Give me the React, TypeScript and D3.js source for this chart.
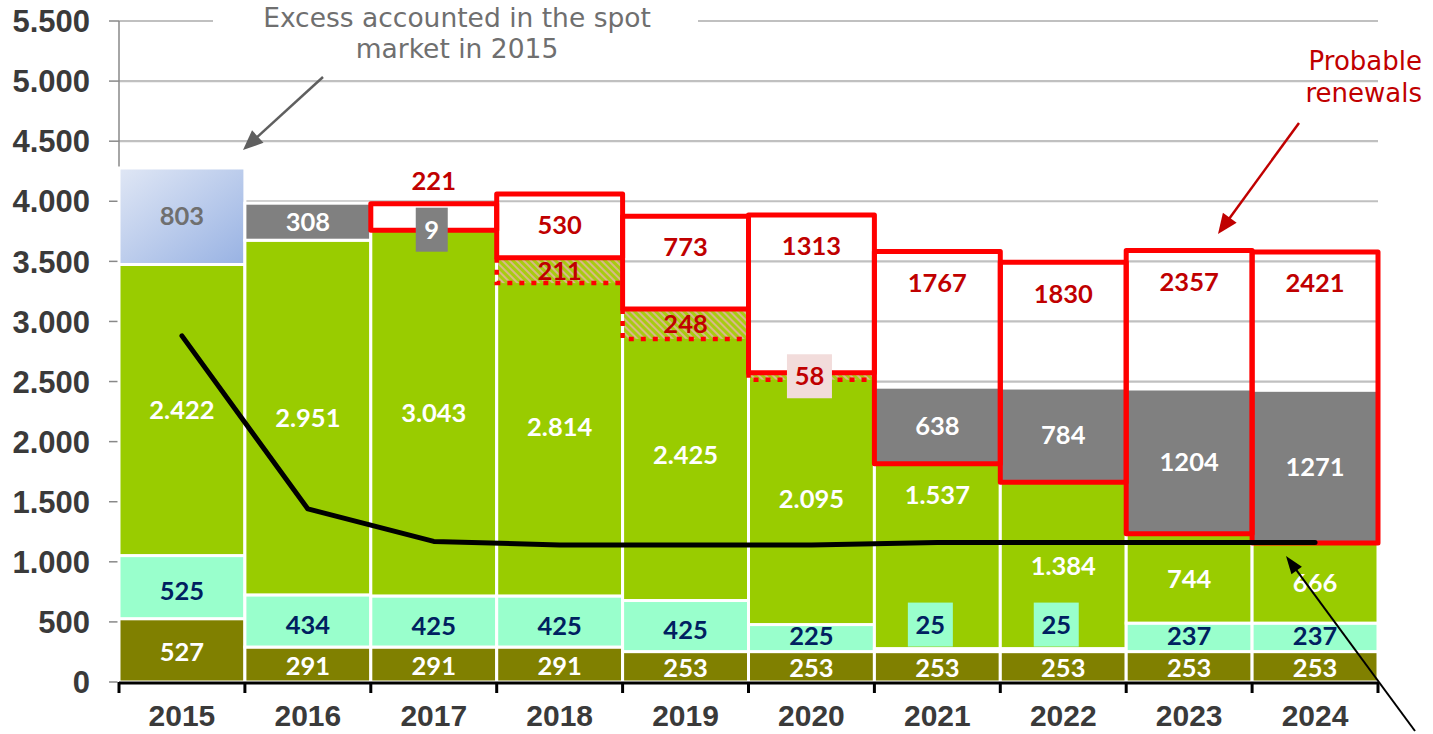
import React from 'react';
import * as d3 from 'd3';

// ---------- data ----------
const years = ['2015', '2016', '2017', '2018', '2019', '2020', '2021', '2022', '2023', '2024'];
const baseSeries = [527, 291, 291, 291, 253, 253, 253, 253, 253, 253];
const midSeries = [525, 434, 425, 425, 425, 225, 25, 25, 237, 237];
const greenSeries = [2422, 2951, 3043, 2814, 2425, 2095, 1537, 1384, 744, 666];
const spotExcess = [803, 0, 0, 0, 0, 0, 0, 0, 0, 0];
const greySeries = [0, 308, 9, 0, 0, 0, 638, 784, 1204, 1271];
const hatchedSeries = [0, 0, 0, 211, 248, 58, 0, 0, 0, 0];
const renewalSeries = [0, 0, 221, 530, 773, 1313, 1767, 1830, 2357, 2421];
const lineSeries = [2880, 1440, 1170, 1140, 1140, 1140, 1160, 1160, 1160, 1160];
const yTickValues = [0, 500, 1000, 1500, 2000, 2500, 3000, 3500, 4000, 4500, 5000, 5500];
const annotationLeft = ['Excess accounted in the spot', 'market in 2015'];
const annotationRight = ['Probable', 'renewals'];

// ---------- layout / style ----------
const W = 1433;
const H = 734;
const X0 = 119;
const X1 = 1378;
const Y0 = 682;
const YTOP = 21;

const C = {
  olive: '#808000',
  aqua: '#99ffcc',
  green: '#99cc00',
  grey: '#808080',
  red: '#ff0000',
  darkRed: '#c00000',
  navy: '#002060',
  grid: '#c0c0c0',
  axisText: '#3a3a3a',
  pink: '#f2dcdb',
};

const LABEL_NUDGE: Record<string, number> = { '2021': -61 };

const locale = d3.formatLocale({ decimal: ',', thousands: '.', grouping: [3], currency: ['', ''] });
const fmtDot = locale.format(',d');
const fmtPlain = d3.format('d');

const FONT_LABEL = 'Lato, "Open Sans", sans-serif';
const FONT_AXIS = '"Liberation Sans", Arial, sans-serif';
const FONT_NOTE = '"DejaVu Sans", Verdana, sans-serif';
const LABEL_SIZE = 25.5;

function arrowLine(x1: number, y1: number, x2: number, y2: number, color: string, w: number, headL: number, headW: number, key: string) {
  const dx = x2 - x1;
  const dy = y2 - y1;
  const len = Math.sqrt(dx * dx + dy * dy);
  const ux = dx / len;
  const uy = dy / len;
  const bx = x2 - ux * headL;
  const by = y2 - uy * headL;
  const px = -uy;
  const py = ux;
  const pts = [
    [x2, y2],
    [bx + px * headW / 2, by + py * headW / 2],
    [bx - px * headW / 2, by - py * headW / 2],
  ];
  return (
    <g key={key}>
      <line x1={x1} y1={y1} x2={bx + ux * 2} y2={by + uy * 2} stroke={color} strokeWidth={w} />
      <polygon points={pts.map((p) => p.join(',')).join(' ')} fill={color} />
    </g>
  );
}

export default function App() {
  const x = d3.scaleBand<string>().domain(years).range([X0, X1]).paddingInner(0).paddingOuter(0);
  const y = d3.scaleLinear().domain([0, 5500]).range([Y0, YTOP]);
  const bw = x.bandwidth();

  const rows = years.map((yr, i) => {
    const b0 = 0;
    const b1 = baseSeries[i];
    const m1 = b1 + midSeries[i];
    const g1 = m1 + greenSeries[i];
    const e1 = g1 + spotExcess[i];
    const gr1 = g1 + greySeries[i];
    return { yr, i, b0, b1, m1, g1, e1, gr1 };
  });

  const segLabel = (
    key: string,
    cx: number,
    yTop: number,
    yBot: number,
    text: string,
    color: string,
    boxFill: string,
    placeAbove: boolean,
    nudge = 0
  ) => {
    const h = yBot - yTop;
    if (h < 12) {
      const bwid = 19 + 13 * text.length;
      const bh = 44;
      const cyBox = placeAbove ? yTop - 2 - bh / 2 : (yTop + yBot) / 2;
      const cxBox = placeAbove ? cx - 7 : cx - 2;
      return (
        <g key={key}>
          <rect x={cxBox - bwid / 2} y={cyBox - bh / 2} width={bwid} height={bh} fill={boxFill} />
          <text x={cxBox} y={cyBox} dy="0.36em" textAnchor="middle" fill={color} fontFamily={FONT_LABEL} fontWeight={700} fontSize={LABEL_SIZE}>
            {text}
          </text>
        </g>
      );
    }
    return (
      <text key={key} x={cx} y={(yTop + yBot) / 2 + nudge} dy="0.36em" textAnchor="middle" fill={color} fontFamily={FONT_LABEL} fontWeight={700} fontSize={LABEL_SIZE}>
        {text}
      </text>
    );
  };

  const line = d3
    .line<number>()
    .x((_, i) => (x(years[i]) as number) + bw / 2)
    .y((d) => y(d));

  return (
    <svg width={W} height={H} style={{ position: 'absolute', left: 0, top: 0, background: '#fff' }}>
      <defs>
        <linearGradient id="spotGrad" x1="0" y1="0" x2="1" y2="1">
          <stop offset="0" stopColor="#e0e7f5" />
          <stop offset="1" stopColor="#98b2e3" />
        </linearGradient>
        <pattern id="hatch" patternUnits="userSpaceOnUse" width="5" height="5" patternTransform="rotate(-45)">
          <rect width="5" height="5" fill="#a8cc10" />
          <line x1="1" y1="0" x2="1" y2="5" stroke="#e8b0b4" strokeWidth="1.5" />
        </pattern>
      </defs>

      {/* gridlines */}
      <g>
        {yTickValues
          .filter((v) => v > 0)
          .map((v) => (
            <line key={'g' + v} x1={X0} x2={X1} y1={y(v)} y2={y(v)} stroke={C.grid} strokeWidth={2.2} />
          ))}
        {yTickValues.map((v) => (
          <line key={'t' + v} x1={X0 - 10} x2={X0} y1={y(v)} y2={y(v)} stroke="#888" strokeWidth={1.5} />
        ))}
        <line x1={X0} x2={X0} y1={YTOP} y2={Y0} stroke="#888" strokeWidth={1.5} />
      </g>

      {/* stacked bars */}
      <g stroke="#fff" strokeWidth={3}>
        {rows.map((r) => {
          const bx = x(r.yr) as number;
          return (
            <g key={'bar' + r.yr}>
              <rect x={bx} y={y(r.b1)} width={bw} height={y(r.b0) - y(r.b1)} fill={C.olive} />
              <rect x={bx} y={y(r.m1)} width={bw} height={y(r.b1) - y(r.m1)} fill={C.aqua} />
              <rect x={bx} y={y(r.g1)} width={bw} height={y(r.m1) - y(r.g1)} fill={C.green} />
              {spotExcess[r.i] > 0 && <rect x={bx} y={y(r.e1)} width={bw} height={y(r.g1) - y(r.e1)} fill="url(#spotGrad)" />}
              {greySeries[r.i] > 0 && <rect x={bx} y={y(r.gr1)} width={bw} height={y(r.g1) - y(r.gr1)} fill={C.grey} />}
            </g>
          );
        })}
      </g>

      {/* hatched (already inside the green stack) */}
      <g>
        {rows
          .filter((r) => hatchedSeries[r.i] > 0)
          .map((r) => {
            const bx = x(r.yr) as number;
            const top = y(r.g1);
            const bot = y(r.g1 - hatchedSeries[r.i]);
            return (
              <g key={'h' + r.yr}>
                <rect x={bx + 1.5} y={top} width={bw - 3} height={bot - top} fill="url(#hatch)" />
                <path
                  d={`M${bx},${top} L${bx},${bot} L${bx + bw},${bot}`}
                  fill="none"
                  stroke={C.red}
                  strokeWidth={4.5}
                  strokeDasharray="5 7"
                />
              </g>
            );
          })}
      </g>

      {/* probable renewals boxes */}
      <g>
        {rows
          .filter((r) => renewalSeries[r.i] > 0)
          .map((r) => {
            const bx = x(r.yr) as number;
            const top = y(r.g1 + renewalSeries[r.i]);
            const bot = y(r.g1);
            return (
              <rect key={'rb' + r.yr} x={bx} y={top} width={bw} height={bot - top} fill="none" stroke={C.red} strokeWidth={5} strokeLinejoin="round" />
            );
          })}
      </g>

      {/* segment labels */}
      <g>
        {rows.map((r) => {
          const cx = (x(r.yr) as number) + bw / 2;
          const out: React.ReactNode[] = [];
          const aquaH = y(r.b1) - y(r.m1);
          out.push(segLabel('lb' + r.yr, cx, y(r.b1), y(r.b0), fmtPlain(baseSeries[r.i]), '#fff', C.olive, false, 1));
          out.push(segLabel('lm' + r.yr, cx, y(r.m1), y(r.b1), fmtPlain(midSeries[r.i]), C.navy, C.aqua, true, aquaH > 40 ? 4 : -2));
          out.push(
            segLabel('lg' + r.yr, cx, y(r.g1), y(r.m1), fmtDot(greenSeries[r.i]), '#fff', C.green, false, LABEL_NUDGE[r.yr] || 0)
          );
          if (spotExcess[r.i] > 0) out.push(segLabel('le' + r.yr, cx, y(r.e1), y(r.g1), fmtPlain(spotExcess[r.i]), '#6f6f6f', '#fff', false));
          if (greySeries[r.i] > 0) out.push(segLabel('lgr' + r.yr, cx, y(r.gr1), y(r.g1), fmtPlain(greySeries[r.i]), '#fff', C.grey, false));
          if (hatchedSeries[r.i] > 0)
            out.push(segLabel('lh' + r.yr, cx, y(r.g1), y(r.g1 - hatchedSeries[r.i]), fmtPlain(hatchedSeries[r.i]), C.darkRed, C.pink, false));
          if (renewalSeries[r.i] > 0) {
            const top = y(r.g1 + renewalSeries[r.i]);
            const h = y(r.g1) - top;
            const ly = h > 40 ? top + 31 : top - 23;
            out.push(
              <text key={'lr' + r.yr} x={cx} y={ly} dy="0.36em" textAnchor="middle" fill={C.darkRed} fontFamily={FONT_LABEL} fontWeight={700} fontSize={LABEL_SIZE}>
                {fmtPlain(renewalSeries[r.i])}
              </text>
            );
          }
          return <g key={'labels' + r.yr}>{out}</g>;
        })}
      </g>

      {/* black line */}
      <path d={line(lineSeries) || ''} fill="none" stroke="#000" strokeWidth={5} strokeLinejoin="round" strokeLinecap="round" />

      {/* x axis */}
      <g>
        <line x1={X0} x2={X1} y1={Y0 + 1} y2={Y0 + 1} stroke="#000" strokeWidth={3} />
        {years.concat(['end']).map((yr, i) => {
          const tx = i < years.length ? (x(yr) as number) : X1;
          return <line key={'xt' + i} x1={tx} x2={tx} y1={Y0} y2={Y0 + 11} stroke="#000" strokeWidth={3} />;
        })}
        {years.map((yr) => (
          <text key={'xl' + yr} x={(x(yr) as number) + bw / 2} y={726} textAnchor="middle" fill={C.axisText} fontFamily={FONT_AXIS} fontWeight={700} fontSize={30}>
            {yr}
          </text>
        ))}
      </g>

      {/* y axis labels */}
      <g>
        {yTickValues.map((v) => (
          <text key={'yl' + v} x={90} y={y(v)} dy="0.36em" textAnchor="end" fill={C.axisText} fontFamily={FONT_AXIS} fontWeight={700} fontSize={31}>
            {fmtDot(v)}
          </text>
        ))}
      </g>

      {/* annotations */}
      <rect x={213} y={0} width={485} height={62} fill="#fff" />
      {annotationLeft.map((t, i) => (
        <text key={'al' + i} x={457} y={27 + i * 31} textAnchor="middle" fill="#6f6f6f" fontFamily={FONT_NOTE} fontSize={26.5}>
          {t}
        </text>
      ))}
      {annotationRight.map((t, i) => (
        <text key={'ar' + i} x={1422} y={70 + i * 32} textAnchor="end" fill={C.darkRed} fontFamily={FONT_NOTE} fontSize={26}>
          {t}
        </text>
      ))}
      {arrowLine(323, 77, 243, 150, '#5f5f5f', 2.5, 20, 17, 'a1')}
      {arrowLine(1299, 123, 1218, 234, C.darkRed, 2.5, 20, 17, 'a2')}
      {arrowLine(1415, 731, 1286, 556, '#000', 2, 18, 13, 'a3')}
    </svg>
  );
}
